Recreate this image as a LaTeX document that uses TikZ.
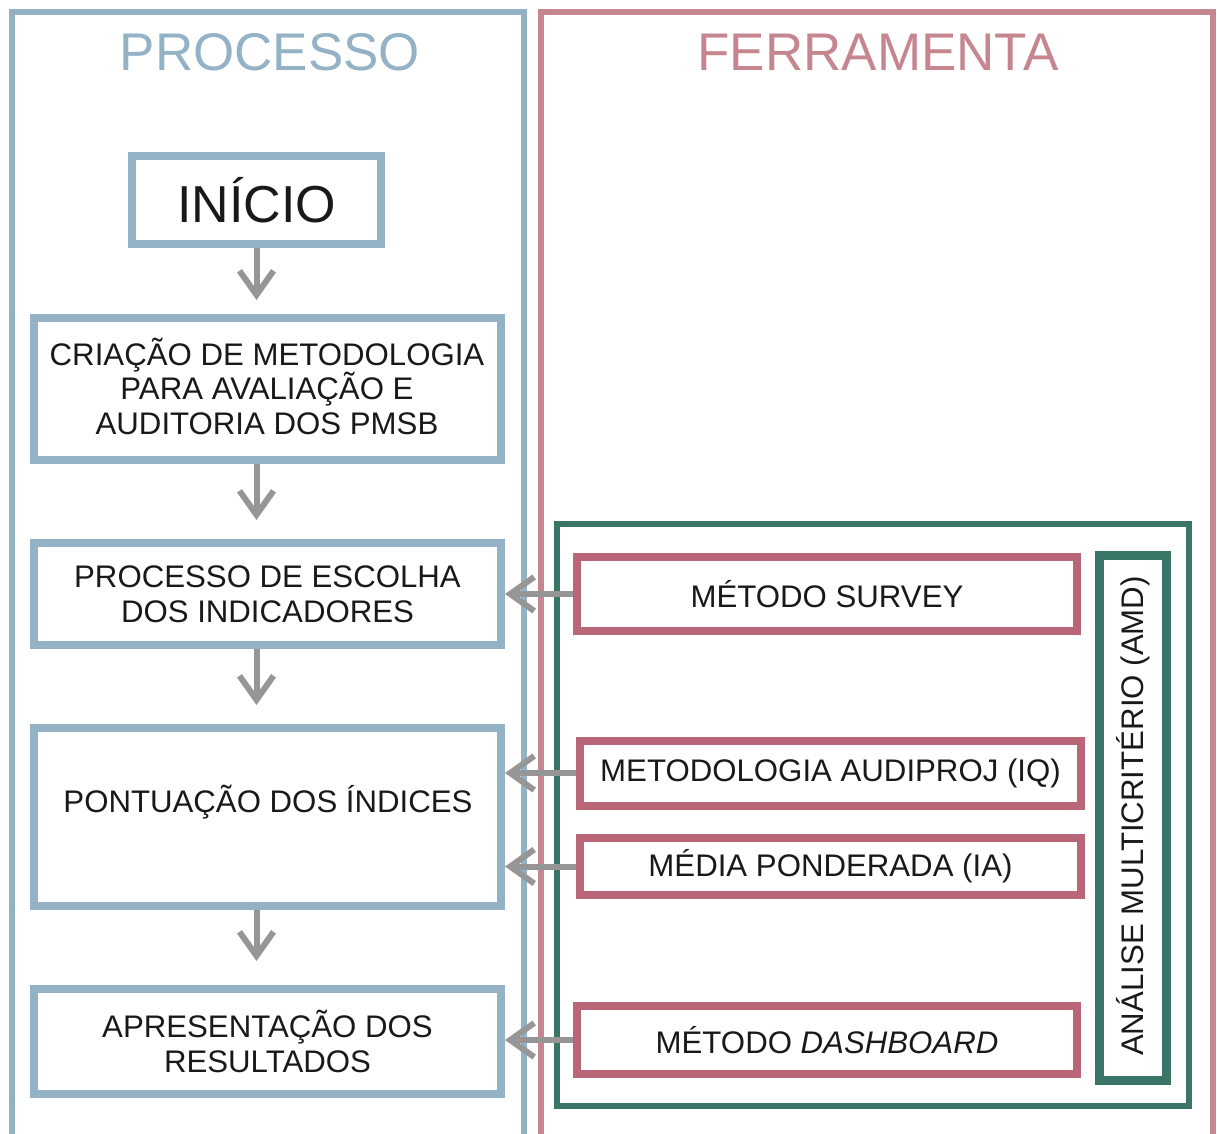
\documentclass[tikz,border=0pt]{standalone}
\usepackage{fontspec}
\setmainfont{Liberation Sans}
\usetikzlibrary{arrows.meta}
\definecolor{pblue}{RGB}{147,178,198}
\definecolor{ppanel}{RGB}{198,134,144}
\definecolor{pbox}{RGB}{184,102,120}
\definecolor{pgreen}{RGB}{58,118,104}
\definecolor{parrow}{RGB}{150,150,150}
\definecolor{ptext}{RGB}{25,25,25}
\tikzset{
  panel/.style={line width=6pt},
  bodyfont/.style={font=\fontsize{31.2}{34.5}\selectfont, text=ptext},
  bluebox/.style={draw=pblue, line width=8pt, inner sep=0pt, align=center, bodyfont},
  pinkbox/.style={draw=pbox, line width=8pt, inner sep=0pt, align=center, bodyfont},
  varrow/.style={draw=parrow, line width=6pt, -{Straight Barb[length=24pt,width=34pt]}},
  harrow/.style={draw=parrow, line width=6pt, -{Straight Barb[length=24pt,width=34pt]}},
  titlefont/.style={font=\fontsize{53}{60}\selectfont}
}
\begin{document}
\begin{tikzpicture}[x=1pt,y=-1pt]
\useasboundingbox (0,0) rectangle (1217,1133);
% panels
\draw[panel, draw=pblue] (12,1140) -- (12,12) -- (524,12) -- (524,1140);
\draw[panel, draw=ppanel] (541,1140) -- (541,12) -- (1213,12) -- (1213,1140);
\node[titlefont, text=pblue] (tproc) at (270,52) {PROCESSO};
\node[titlefont, text=ppanel] (tferr) at (878,52) {FERRAMENTA};
% green group
\node[draw=pgreen, line width=6pt, minimum width=632pt, minimum height=582pt, inner sep=0pt] (amdgroup) at (873,815) {};
\node[draw=pgreen, line width=9pt, minimum width=67pt, minimum height=525pt, inner sep=0pt] (amd) at (1132.5,817.5) {};
\node[rotate=90, bodyfont] (amdtext) at (1133,816) {ANÁLISE MULTICRITÉRIO (AMD)};
% process boxes
\node[bluebox, minimum width=249pt, minimum height=88pt, font=\fontsize{52}{60}\selectfont] (inicio) at (256.5,200) {INÍCIO};
\node[bluebox, minimum width=467pt, minimum height=142pt] (criacao) at (267.5,389) {};
\node[bodyfont, align=center] (criacaotext) at (267,386) {CRIAÇÃO DE METODOLOGIA\\PARA AVALIAÇÃO E\\AUDITORIA DOS PMSB};
\node[bluebox, minimum width=467pt, minimum height=102pt] (escolha) at (267.5,594) {PROCESSO DE ESCOLHA\\DOS INDICADORES};
\node[bluebox, minimum width=467pt, minimum height=178pt] (pont) at (267.5,817) {};
\node[bodyfont] (ponttext) at (268,802) {PONTUAÇÃO DOS ÍNDICES};
\node[bluebox, minimum width=467pt, minimum height=105pt] (apres) at (267.5,1041.5) {APRESENTAÇÃO DOS\\RESULTADOS};
% tool boxes
\node[pinkbox, minimum width=500pt, minimum height=74pt] (survey) at (827,594) {MÉTODO SURVEY};
\node[pinkbox, minimum width=501pt, minimum height=65pt] (audi) at (830.5,773) {METODOLOGIA AUDIPROJ (IQ)};
\node[pinkbox, minimum width=501pt, minimum height=57pt] (media) at (830.5,866.5) {MÉDIA PONDERADA (IA)};
\node[pinkbox, minimum width=500pt, minimum height=68pt] (dash) at (827,1040) {MÉTODO \textit{DASHBOARD}};
% vertical arrows
\draw[varrow, shorten >=14pt] (inicio.south) -- (inicio.south |- criacao.north);
\draw[varrow, shorten >=19pt] (criacao.south -| inicio.south) -- (inicio.south |- escolha.north);
\draw[varrow, shorten >=19pt] (escolha.south -| inicio.south) -- (inicio.south |- pont.north);
\draw[varrow, shorten >=24pt] (pont.south -| inicio.south) -- (inicio.south |- apres.north);
% horizontal arrows
\draw[harrow] (survey.west) -- (escolha.east |- survey.west);
\draw[harrow] (audi.west) -- (pont.east |- audi.west);
\draw[harrow] (media.west) -- (pont.east |- media.west);
\draw[harrow] (dash.west) -- (apres.east |- dash.west);
\end{tikzpicture}
\end{document}
